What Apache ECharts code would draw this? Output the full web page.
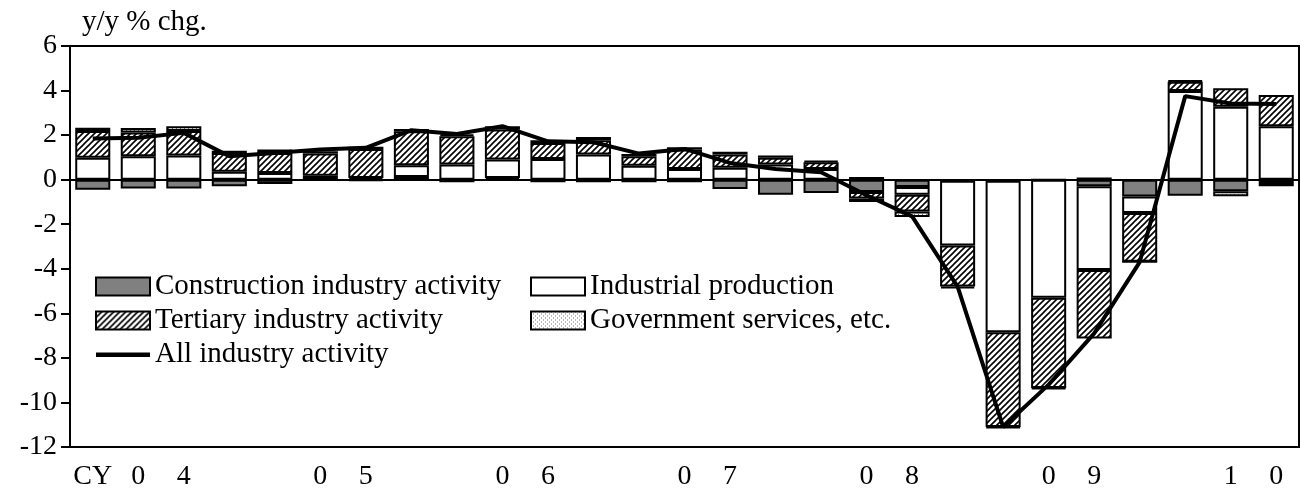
<!DOCTYPE html>
<html>
<head>
<meta charset="utf-8">
<script src="https://cdn.jsdelivr.net/npm/echarts@6/dist/echarts.min.js"></script>
<style>
  html, body { margin: 0; padding: 0; background: #fff; }
  #chart { width: 1301px; height: 493px; }
</style>
</head>
<body>
<div id="chart"></div>
<script>
// quarterly, CY2004 Q1 .. CY2010 Q3
const quarters = [
  '04Q1', '04Q2', '04Q3', '04Q4', '05Q1', '05Q2', '05Q3', '05Q4',
  '06Q1', '06Q2', '06Q3', '06Q4', '07Q1', '07Q2', '07Q3', '07Q4',
  '08Q1', '08Q2', '08Q3', '08Q4', '09Q1', '09Q2', '09Q3', '09Q4',
  '10Q1', '10Q2', '10Q3'
]
const xTickLabels = [
  'CY', '0', '4', '', '', '0', '5', '', '', '0', '6', '', '', '0', '7', '',
  '', '0', '8', '', '', '0', '9', '', '', '1', '0'
]
const yTicks = [-12, -10, -8, -6, -4, -2, 0, 2, 4, 6]

const construction = [
  -0.45, -0.4, -0.4, -0.3, -0.2, 0.03, -0.05, 0.12,
  -0.12, 0.08, -0.12, -0.12, -0.12, -0.12, -0.42, -0.68,
  -0.6, -0.55, -0.33, -0.05, -0.05, 0, -0.3, -0.75,
  -0.72, -0.52, -0.15
]
const industrial = [
  0.98, 1.05, 1.08, 0.35, 0.3, 0.15, 0.08, 0.53,
  0.68, 0.82, 0.93, 1.13, 0.63, 0.48, 0.53, 0.68,
  0.48, 0.12, -0.35, -2.9, -6.8, -5.3, -3.75, -0.75,
  3.98, 3.27, 2.4
]
const tertiary = [
  1.2, 1.07, 1.1, 0.85, 0.9, 1.0, 1.3, 1.52,
  1.27, 1.35, 0.72, 0.64, 0.42, 0.87, 0.6, 0.3,
  0.3, -0.3, -0.75, -1.85, -4.25, -4.05, -3.08, -2.18,
  0.42, 0.83, 1.4
]
const government = [
  0.15, 0.2, 0.22, 0.1, 0.15, 0.1, 0.1, 0.1,
  0.08, 0.15, 0.12, 0.15, 0.1, 0.1, 0.12, 0.1,
  0.07, -0.15, -0.25, -0.08, -0.05, -0.05, 0.1, 0,
  0.05, -0.22, -0.15
]
const allIndustry = [
  1.85, 1.88, 2.1, 1.05, 1.2, 1.35, 1.43, 2.22,
  2.05, 2.4, 1.72, 1.68, 1.17, 1.38, 0.75, 0.48,
  0.33, -0.7, -1.65, -4.8, -11.1, -9.2, -6.9, -3.7,
  3.75, 3.42, 3.4
]

const FONT = '"Liberation Serif", "Times New Roman", serif'
const FS = 28
const LEGEND_FS = 29

function hatchPattern() {
  const c = document.createElement('canvas')
  c.width = 6
  c.height = 6
  const ctx = c.getContext('2d')
  ctx.fillStyle = '#fff'
  ctx.fillRect(0, 0, 6, 6)
  ctx.strokeStyle = '#000'
  ctx.lineWidth = 1.6
  ctx.beginPath()
  ctx.moveTo(-1, 7); ctx.lineTo(7, -1)
  ctx.moveTo(-4, 4); ctx.lineTo(4, -4)
  ctx.moveTo(2, 10); ctx.lineTo(10, 2)
  ctx.stroke()
  return c
}

function dotPattern() {
  const c = document.createElement('canvas')
  c.width = 4
  c.height = 4
  const ctx = c.getContext('2d')
  ctx.fillStyle = '#fff'
  ctx.fillRect(0, 0, 4, 4)
  ctx.fillStyle = '#777'
  ctx.fillRect(0, 0, 1, 1)
  ctx.fillRect(2, 2, 1, 1)
  return c
}

// thick bar in the middle of the legend box; the two specks only set the bounds
const lineIcon = 'path://M0,0L0.01,0L0.01,0.01Z M0,7L54,7L54,11.5L0,11.5Z M53.99,18L54,18L54,17.99Z'

const border = { borderColor: '#000', borderWidth: 2 }

function barSeries(name, data, color) {
  return {
    name: name,
    type: 'bar',
    stack: 'total',
    data: data,
    barCategoryGap: '23%',
    itemStyle: Object.assign({ color: color }, border)
  }
}

const legendText = { fontFamily: FONT, fontSize: LEGEND_FS, color: '#000' }

const chart = echarts.init(document.getElementById('chart'))
chart.setOption({
  animation: false,
  title: {
    text: 'y/y % chg.',
    left: 77,
    top: 3,
    textStyle: { fontFamily: FONT, fontSize: LEGEND_FS, fontWeight: 'normal', color: '#000' }
  },
  grid: {
    left: 70, right: 2, top: 46, bottom: 46,
    show: true, borderColor: '#000', borderWidth: 2
  },
  legend: [
    {
      left: 95, top: 272, orient: 'vertical', padding: 0, itemGap: 5,
      itemWidth: 54, itemHeight: 18,
      textStyle: legendText,
      data: [
        { name: 'Construction industry activity', icon: 'rect' },
        { name: 'Tertiary industry activity', icon: 'rect' },
        { name: 'All industry activity', icon: lineIcon, itemStyle: { color: '#000', borderWidth: 0 } }
      ]
    },
    {
      left: 530, top: 272, orient: 'vertical', padding: 0, itemGap: 5,
      itemWidth: 54, itemHeight: 18,
      textStyle: legendText,
      data: [
        { name: 'Industrial production', icon: 'rect' },
        { name: 'Government services, etc.', icon: 'rect' }
      ]
    }
  ],
  xAxis: {
    type: 'category',
    data: quarters,
    axisLine: { onZero: false, lineStyle: { color: '#000', width: 2 } },
    axisTick: {
      inside: true, length: 9,
      interval: (i) => i % 4 === 0,
      lineStyle: { color: '#000', width: 2 }
    },
    axisLabel: {
      interval: 0, margin: 16,
      fontFamily: FONT, fontSize: FS, color: '#000',
      formatter: (v, i) => xTickLabels[i]
    }
  },
  yAxis: {
    type: 'value',
    min: yTicks[0], max: yTicks[yTicks.length - 1], interval: 2,
    splitLine: { show: false },
    axisLine: { show: true, lineStyle: { color: '#000', width: 2 } },
    axisTick: { show: true, length: 9, lineStyle: { color: '#000', width: 2 } },
    axisLabel: { margin: 13, fontFamily: FONT, fontSize: FS, color: '#000' }
  },
  series: [
    barSeries('Construction industry activity', construction, '#808080'),
    barSeries('Industrial production', industrial, '#fff'),
    barSeries('Tertiary industry activity', tertiary, { image: hatchPattern(), repeat: 'repeat' }),
    barSeries('Government services, etc.', government, { image: dotPattern(), repeat: 'repeat' }),
    {
      name: 'All industry activity',
      type: 'line',
      data: allIndustry,
      symbol: 'none',
      z: 5,
      itemStyle: { color: '#000' },
      lineStyle: { color: '#000', width: 4 },
      markLine: {
        silent: true,
        symbol: 'none',
        label: { show: false },
        lineStyle: { color: '#000', width: 2, type: 'solid' },
        data: [{ yAxis: 0 }]
      }
    }
  ]
})
</script>
</body>
</html>
